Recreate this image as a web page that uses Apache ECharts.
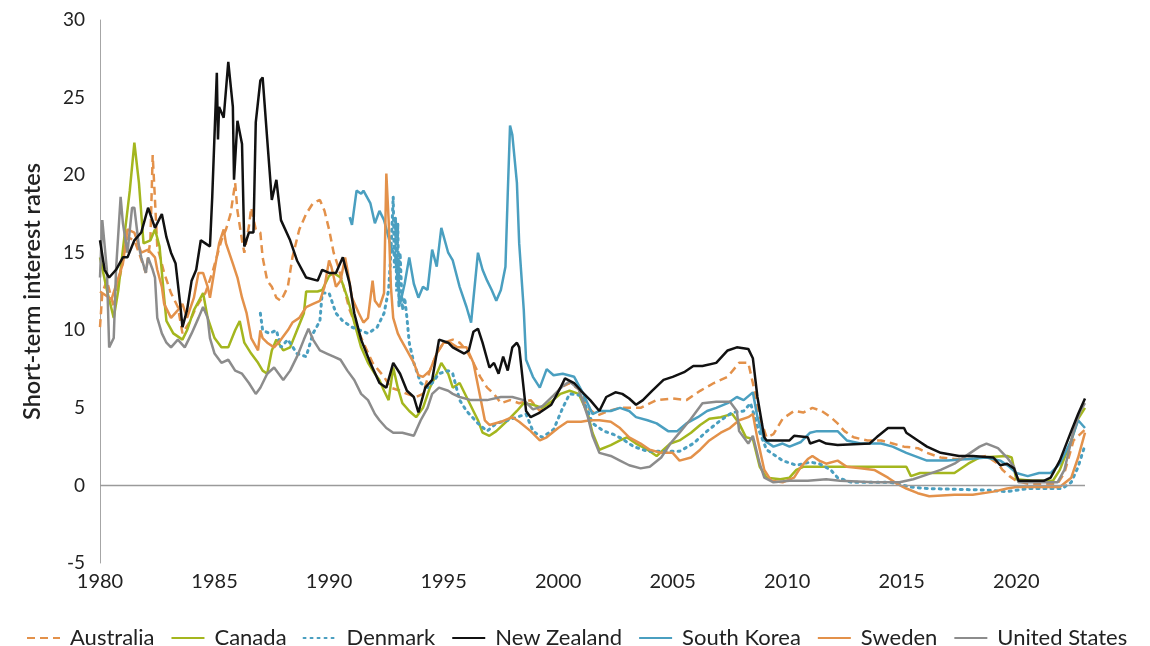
<!DOCTYPE html>
<html>
<head>
<meta charset="utf-8">
<script src="https://cdn.jsdelivr.net/npm/echarts@6/dist/echarts.min.js"></script>
<style>
  html, body { margin: 0; padding: 0; background: #fff; }
  #chart { width: 1150px; height: 646px; }
</style>
</head>
<body>
<div id="chart"></div>
<script>
// [year, short-term rate %]
const australia = [[1980.0,10.2],[1980.1,12.4],[1980.3,13.2],[1980.6,11.5],[1980.9,13.7],[1981.2,16.0],[1981.5,15.8],[1981.7,15.0],[1982.0,13.7],[1982.2,15.8],[1982.3,21.3],[1982.4,18.4],[1982.5,15.4],[1982.8,13.7],[1983.1,12.4],[1983.4,11.5],[1983.6,9.8],[1983.9,10.5],[1984.2,11.5],[1984.6,12.4],[1984.9,13.7],[1985.3,15.8],[1985.5,16.5],[1985.7,17.5],[1985.9,19.5],[1986.0,17.7],[1986.2,15.8],[1986.3,15.0],[1986.5,16.7],[1986.6,17.9],[1986.8,16.5],[1987.0,16.3],[1987.1,14.7],[1987.3,13.2],[1987.5,12.8],[1987.7,12.1],[1987.9,11.9],[1988.2,12.8],[1988.4,14.7],[1988.7,16.5],[1989.0,17.5],[1989.3,18.2],[1989.6,18.4],[1989.8,17.7],[1990.0,16.5],[1990.2,15.0],[1990.4,14.1],[1990.6,13.0],[1990.9,11.3],[1991.2,10.2],[1991.5,9.2],[1991.9,7.9],[1992.4,7.0],[1992.7,6.3],[1993.1,6.1],[1993.4,5.9],[1993.8,5.7],[1994.1,5.9],[1994.4,7.4],[1994.7,8.5],[1995.0,9.2],[1995.4,9.4],[1995.7,9.2],[1996.0,8.7],[1996.3,7.9],[1996.6,7.0],[1996.9,6.3],[1997.2,5.9],[1997.5,5.3],[1997.9,5.5],[1998.3,5.3],[1998.8,5.5],[1999.2,4.8],[1999.7,5.3],[2000.1,6.3],[2000.5,6.6],[2000.9,6.2],[2001.3,5.0],[2001.7,4.5],[2002.2,4.8],[2002.7,5.0],[2003.3,5.0],[2003.6,5.0],[2004.3,5.5],[2005.0,5.6],[2005.6,5.5],[2006.2,6.1],[2006.8,6.6],[2007.4,7.0],[2007.9,7.9],[2008.3,7.9],[2008.5,6.6],[2008.8,4.4],[2009.1,3.1],[2009.4,3.3],[2009.8,4.3],[2010.3,4.8],[2010.7,4.7],[2011.1,5.0],[2011.5,4.8],[2011.9,4.4],[2012.2,4.0],[2012.5,3.5],[2012.9,3.1],[2013.5,2.9],[2014.1,2.9],[2014.6,2.7],[2015.1,2.5],[2015.7,2.4],[2016.1,2.1],[2016.7,1.8],[2017.3,1.7],[2018.0,1.7],[2018.7,1.9],[2019.2,1.4],[2019.4,1.0],[2019.7,0.6],[2020.0,0.3],[2020.5,0.1],[2021.0,0.1],[2021.8,0.1],[2022.1,0.8],[2022.5,2.9],[2023.0,3.6]];

const canada = [[1980.0,14.7],[1980.3,12.6],[1980.6,10.8],[1980.8,12.6],[1981.1,16.5],[1981.3,19.0],[1981.5,22.1],[1981.7,19.5],[1981.9,15.6],[1982.2,15.8],[1982.4,16.5],[1982.6,15.4],[1982.8,12.1],[1982.9,10.6],[1983.2,9.8],[1983.6,9.4],[1983.8,10.0],[1984.1,11.3],[1984.5,12.4],[1984.7,10.8],[1985.0,9.5],[1985.3,8.9],[1985.6,8.9],[1985.9,10.0],[1986.1,10.6],[1986.3,9.2],[1986.6,8.5],[1986.9,7.9],[1987.1,7.4],[1987.3,7.2],[1987.5,8.7],[1987.7,9.4],[1988.0,8.7],[1988.3,8.9],[1988.6,10.0],[1988.9,11.1],[1989.0,12.5],[1989.5,12.5],[1989.7,12.6],[1990.0,13.5],[1990.2,13.7],[1990.5,13.4],[1990.8,12.1],[1991.1,10.5],[1991.4,8.9],[1991.7,7.9],[1992.0,7.2],[1992.2,6.8],[1992.4,6.1],[1992.6,5.5],[1992.8,7.6],[1993.0,6.3],[1993.2,5.3],[1993.5,4.8],[1993.8,4.4],[1994.1,5.0],[1994.4,6.3],[1994.7,7.2],[1994.9,7.9],[1995.2,7.2],[1995.4,6.3],[1995.7,6.6],[1996.0,5.7],[1996.3,4.8],[1996.5,4.2],[1996.7,3.4],[1997.0,3.2],[1997.3,3.5],[1997.8,4.2],[1998.2,4.8],[1998.5,5.3],[1998.9,5.2],[1999.3,5.0],[1999.7,5.4],[2000.1,5.9],[2000.5,6.1],[2000.9,5.9],[2001.3,4.6],[2001.5,3.4],[2001.8,2.3],[2002.3,2.6],[2002.7,2.9],[2003.0,3.1],[2003.4,2.7],[2003.9,2.3],[2004.3,1.9],[2004.6,2.3],[2004.9,2.7],[2005.3,2.9],[2005.8,3.4],[2006.2,3.9],[2006.6,4.3],[2007.1,4.4],[2007.6,4.6],[2007.9,4.0],[2008.2,3.1],[2008.5,3.0],[2008.8,1.2],[2009.1,0.5],[2009.7,0.4],[2010.1,0.5],[2010.4,1.0],[2010.7,1.2],[2015.2,1.2],[2015.4,0.6],[2015.8,0.8],[2017.3,0.8],[2017.9,1.4],[2018.4,1.8],[2019.6,1.9],[2019.8,1.8],[2020.0,0.4],[2020.7,0.3],[2021.6,0.3],[2021.9,1.0],[2022.4,2.9],[2022.7,4.3],[2023.0,5.0]];

const denmark = [[1987.0,11.1],[1987.1,10.0],[1987.4,9.8],[1987.7,10.0],[1987.9,8.9],[1988.2,9.4],[1988.6,8.5],[1989.0,8.3],[1989.3,9.8],[1989.6,10.6],[1989.7,12.4],[1990.0,12.4],[1990.3,11.1],[1990.6,10.6],[1991.0,10.2],[1991.7,9.8],[1992.1,10.2],[1992.4,11.1],[1992.6,12.6],[1992.7,15.0],[1992.8,18.6],[1992.85,14.0],[1992.9,17.3],[1992.95,12.5],[1993.0,16.9],[1993.05,11.5],[1993.1,15.0],[1993.2,11.3],[1993.3,12.1],[1993.4,10.8],[1993.5,9.2],[1993.7,7.9],[1994.0,6.6],[1994.3,6.3],[1994.5,6.6],[1994.8,7.2],[1995.2,7.4],[1995.4,7.2],[1995.7,5.5],[1996.0,4.8],[1996.5,4.0],[1996.9,3.5],[1997.3,4.0],[1997.8,4.2],[1998.2,4.4],[1998.6,4.6],[1998.9,3.5],[1999.3,3.1],[1999.8,3.6],[2000.2,5.0],[2000.5,5.9],[2001.0,5.8],[2001.3,4.8],[2001.5,4.0],[2002.0,3.5],[2002.4,3.3],[2002.8,3.0],[2003.3,2.5],[2003.9,2.2],[2004.8,2.2],[2005.3,2.2],[2005.9,2.7],[2006.5,3.5],[2007.1,4.2],[2007.6,4.7],[2008.1,4.8],[2008.4,5.3],[2008.7,3.8],[2009.1,2.3],[2009.8,1.6],[2010.4,1.3],[2011.0,1.5],[2011.4,1.4],[2011.9,1.0],[2012.2,0.5],[2012.8,0.2],[2013.8,0.2],[2014.5,0.2],[2015.1,0.0],[2015.4,-0.1],[2016.1,-0.2],[2018.7,-0.3],[2019.6,-0.4],[2020.5,-0.2],[2021.5,-0.2],[2022.0,-0.2],[2022.4,0.2],[2022.7,1.2],[2023.0,2.6]];

const newZealand = [[1980.0,15.8],[1980.2,13.9],[1980.4,13.4],[1980.7,13.9],[1981.0,14.7],[1981.2,14.7],[1981.5,15.8],[1981.8,16.3],[1982.1,17.9],[1982.4,16.6],[1982.7,17.5],[1982.9,16.0],[1983.1,15.0],[1983.3,14.3],[1983.5,11.7],[1983.6,10.2],[1983.8,11.3],[1984.0,13.2],[1984.2,13.9],[1984.4,15.8],[1984.6,15.6],[1984.8,15.4],[1984.9,18.6],[1985.1,26.6],[1985.15,22.3],[1985.2,24.4],[1985.4,23.7],[1985.6,27.3],[1985.8,24.4],[1985.85,19.7],[1986.0,23.5],[1986.2,22.0],[1986.3,15.4],[1986.5,16.3],[1986.7,16.3],[1986.8,23.4],[1987.0,26.1],[1987.1,26.3],[1987.3,22.3],[1987.5,18.4],[1987.7,19.7],[1987.9,17.1],[1988.3,15.8],[1988.6,14.5],[1989.0,13.4],[1989.5,13.2],[1989.7,13.9],[1990.0,13.7],[1990.3,13.7],[1990.6,14.7],[1990.9,13.0],[1991.1,11.1],[1991.4,9.4],[1991.8,7.9],[1992.2,6.6],[1992.5,6.3],[1992.8,7.9],[1993.1,7.2],[1993.4,6.1],[1993.7,5.7],[1993.9,4.7],[1994.2,6.3],[1994.5,6.8],[1994.8,9.4],[1995.2,9.2],[1995.4,8.9],[1995.9,8.5],[1996.1,8.7],[1996.3,9.9],[1996.5,10.1],[1996.7,9.2],[1997.0,7.6],[1997.2,7.9],[1997.4,7.2],[1997.6,8.3],[1997.8,7.4],[1998.0,8.9],[1998.2,9.2],[1998.3,8.9],[1998.6,4.8],[1998.8,4.4],[1999.2,4.7],[1999.7,5.2],[2000.1,6.3],[2000.3,6.9],[2000.7,6.6],[2001.0,6.1],[2001.4,5.5],[2001.8,4.8],[2002.1,5.7],[2002.5,6.0],[2002.8,5.9],[2003.1,5.6],[2003.4,5.2],[2003.7,5.5],[2004.1,6.1],[2004.6,6.8],[2005.0,7.0],[2005.5,7.3],[2005.9,7.7],[2006.3,7.7],[2006.9,7.9],[2007.4,8.7],[2007.8,8.9],[2008.3,8.8],[2008.5,8.2],[2008.7,5.7],[2009.0,3.1],[2009.1,2.9],[2010.1,2.9],[2010.3,3.2],[2010.9,3.1],[2011.0,2.7],[2011.4,2.9],[2011.7,2.7],[2012.2,2.6],[2013.6,2.7],[2013.9,3.1],[2014.4,3.7],[2015.1,3.7],[2015.2,3.4],[2015.7,2.9],[2016.1,2.5],[2016.7,2.1],[2017.5,1.9],[2018.1,1.9],[2019.0,1.8],[2019.3,1.3],[2019.6,1.4],[2019.9,1.1],[2020.1,0.3],[2021.2,0.3],[2021.5,0.5],[2021.9,1.6],[2022.4,3.5],[2022.7,4.6],[2023.0,5.6]];

const southKorea = [[1990.9,17.3],[1991.0,16.8],[1991.2,19.0],[1991.4,18.8],[1991.5,19.0],[1991.8,18.2],[1992.0,16.9],[1992.2,17.7],[1992.4,17.1],[1992.7,15.4],[1992.9,14.7],[1993.1,11.7],[1993.3,13.0],[1993.5,14.7],[1993.7,13.0],[1993.9,12.1],[1994.1,12.8],[1994.3,12.6],[1994.5,15.2],[1994.7,14.1],[1994.9,16.6],[1995.2,15.0],[1995.4,14.5],[1995.7,12.8],[1996.0,11.5],[1996.2,10.5],[1996.5,15.0],[1996.7,13.9],[1996.9,13.2],[1997.1,12.6],[1997.3,11.9],[1997.5,12.6],[1997.7,14.1],[1997.8,18.8],[1997.9,23.2],[1998.0,22.6],[1998.2,19.5],[1998.3,15.6],[1998.5,11.3],[1998.6,8.1],[1998.9,7.0],[1999.2,6.3],[1999.5,7.5],[1999.8,7.1],[2000.2,7.2],[2000.7,7.0],[2001.1,5.9],[2001.5,4.6],[2001.8,4.8],[2002.3,4.8],[2002.7,5.0],[2003.1,4.8],[2003.4,4.4],[2003.9,4.2],[2004.3,4.0],[2004.8,3.5],[2005.2,3.5],[2005.6,4.0],[2006.1,4.4],[2006.5,4.8],[2006.9,5.0],[2007.4,5.3],[2007.8,5.7],[2008.1,5.5],[2008.5,6.0],[2008.7,4.4],[2009.0,2.9],[2009.4,2.5],[2009.8,2.7],[2010.1,2.5],[2010.6,2.8],[2011.0,3.4],[2011.3,3.5],[2012.2,3.5],[2012.6,2.9],[2013.2,2.7],[2014.1,2.7],[2014.6,2.5],[2015.2,2.1],[2016.1,1.6],[2017.0,1.6],[2017.9,1.7],[2018.7,1.8],[2019.3,1.6],[2019.7,1.2],[2020.0,0.8],[2020.5,0.6],[2021.0,0.8],[2021.5,0.8],[2021.9,1.4],[2022.4,2.9],[2022.7,4.2],[2023.0,3.7]];

const sweden = [[1980.0,12.5],[1980.5,12.0],[1981.0,14.3],[1981.2,16.5],[1981.5,16.3],[1981.8,15.0],[1982.1,15.2],[1982.4,14.7],[1982.5,13.9],[1982.7,12.8],[1982.8,11.7],[1983.1,10.8],[1983.4,11.3],[1983.6,11.7],[1983.8,10.8],[1984.1,12.1],[1984.3,13.7],[1984.5,13.7],[1984.7,12.8],[1984.8,12.1],[1985.0,13.9],[1985.2,15.6],[1985.4,16.5],[1985.5,15.6],[1985.8,14.3],[1986.0,13.4],[1986.2,12.1],[1986.4,11.1],[1986.6,9.5],[1986.9,8.7],[1987.0,10.0],[1987.1,9.5],[1987.3,9.2],[1987.6,8.9],[1987.9,9.4],[1988.2,10.0],[1988.4,10.5],[1988.7,10.8],[1989.0,11.5],[1989.3,11.7],[1989.6,11.9],[1989.8,12.8],[1990.0,14.5],[1990.1,14.1],[1990.3,12.8],[1990.5,13.2],[1990.7,14.7],[1990.8,13.9],[1991.0,12.1],[1991.3,11.1],[1991.5,10.5],[1991.7,10.8],[1991.9,13.2],[1992.0,11.9],[1992.2,11.5],[1992.4,12.4],[1992.5,20.1],[1992.6,17.1],[1992.7,12.8],[1992.8,10.8],[1993.0,9.8],[1993.1,9.5],[1993.4,8.7],[1993.7,7.9],[1993.9,7.1],[1994.1,7.0],[1994.4,7.4],[1994.7,8.5],[1995.0,9.2],[1995.3,9.2],[1995.6,8.9],[1996.0,8.9],[1996.3,7.9],[1996.6,5.7],[1996.8,4.2],[1997.0,3.9],[1997.5,4.1],[1998.0,4.4],[1998.3,4.1],[1998.8,3.5],[1999.2,2.9],[1999.5,3.1],[2000.0,3.7],[2000.4,4.1],[2001.0,4.1],[2001.4,4.2],[2001.8,4.2],[2002.3,4.1],[2002.7,3.7],[2003.1,3.1],[2003.6,2.7],[2004.0,2.3],[2004.5,2.1],[2005.0,2.1],[2005.3,1.6],[2005.8,1.8],[2006.2,2.3],[2006.6,2.9],[2007.1,3.4],[2007.5,3.7],[2007.9,4.2],[2008.3,4.4],[2008.5,4.6],[2008.7,3.0],[2009.0,1.0],[2009.3,0.3],[2009.8,0.2],[2010.3,0.5],[2010.6,1.2],[2010.9,1.7],[2011.1,1.9],[2011.4,1.6],[2011.7,1.4],[2012.2,1.6],[2012.6,1.2],[2013.2,1.1],[2013.8,1.0],[2014.4,0.5],[2014.8,0.1],[2015.2,-0.2],[2015.7,-0.5],[2016.2,-0.7],[2017.3,-0.6],[2018.1,-0.6],[2019.0,-0.4],[2019.6,-0.2],[2020.0,-0.1],[2021.0,-0.1],[2021.9,-0.1],[2022.4,0.5],[2022.7,1.8],[2023.0,3.4]];

const unitedStates = [[1980.0,13.4],[1980.1,17.1],[1980.3,13.9],[1980.4,8.9],[1980.6,9.5],[1980.7,13.9],[1980.9,18.6],[1981.0,16.9],[1981.2,15.0],[1981.4,17.9],[1981.5,17.9],[1981.7,15.4],[1981.8,14.7],[1982.0,13.7],[1982.1,14.7],[1982.3,13.9],[1982.4,13.4],[1982.5,10.8],[1982.7,9.8],[1982.9,9.2],[1983.1,8.9],[1983.4,9.4],[1983.7,8.9],[1984.0,9.8],[1984.3,10.8],[1984.5,11.5],[1984.7,10.8],[1984.8,9.5],[1985.0,8.5],[1985.3,7.9],[1985.6,8.1],[1985.9,7.4],[1986.2,7.2],[1986.5,6.6],[1986.8,5.9],[1987.0,6.3],[1987.3,7.2],[1987.6,7.6],[1987.8,7.2],[1988.0,6.8],[1988.3,7.4],[1988.6,8.3],[1988.9,9.4],[1989.1,10.1],[1989.3,9.4],[1989.6,8.7],[1989.9,8.5],[1990.2,8.3],[1990.5,8.1],[1990.8,7.4],[1991.1,6.8],[1991.4,5.9],[1991.7,5.5],[1992.0,4.6],[1992.2,4.2],[1992.5,3.7],[1992.8,3.4],[1993.2,3.4],[1993.7,3.2],[1994.0,4.2],[1994.3,5.0],[1994.5,5.9],[1994.8,6.3],[1995.2,6.1],[1995.4,5.9],[1995.7,5.7],[1996.2,5.5],[1996.9,5.5],[1997.5,5.7],[1998.0,5.7],[1998.5,5.5],[1998.9,4.9],[1999.3,5.1],[1999.8,5.8],[2000.2,6.4],[2000.5,6.7],[2000.9,6.2],[2001.3,4.4],[2001.5,3.2],[2001.8,2.1],[2002.3,1.9],[2002.7,1.6],[2003.1,1.3],[2003.6,1.1],[2004.0,1.2],[2004.5,1.8],[2004.9,2.7],[2005.3,3.4],[2005.8,4.3],[2006.3,5.3],[2006.9,5.4],[2007.5,5.4],[2007.8,4.8],[2007.9,3.5],[2008.3,2.7],[2008.5,3.2],[2008.8,1.4],[2009.0,0.5],[2009.4,0.2],[2010.1,0.3],[2010.9,0.3],[2011.7,0.4],[2012.3,0.3],[2013.8,0.2],[2014.9,0.2],[2015.5,0.4],[2016.1,0.7],[2016.7,1.0],[2017.3,1.4],[2017.9,2.0],[2018.4,2.5],[2018.7,2.7],[2019.2,2.4],[2019.6,1.8],[2019.9,1.2],[2020.1,0.2],[2021.8,0.2],[2022.1,1.0],[2022.5,3.5],[2022.8,4.8],[2023.0,5.3]];

const seriesDefs = [
    { name: "Australia", data: australia, color: "#E3914A", type: "dashed" },
    { name: "Canada", data: canada, color: "#A4B61E", type: "solid" },
    { name: "Denmark", data: denmark, color: "#4A9FC0", type: "dotted" },
    { name: "New Zealand", data: newZealand, color: "#111111", type: "solid" },
    { name: "South Korea", data: southKorea, color: "#4A9FC0", type: "solid" },
    { name: "Sweden", data: sweden, color: "#E3914A", type: "solid" },
    { name: "United States", data: unitedStates, color: "#8C8C8C", type: "solid" },
];

const textColor = "#222";
const font = "Lato, 'Noto Sans', sans-serif";

const chart = echarts.init(document.getElementById("chart"), null, { renderer: "canvas" });
chart.setOption({
    animation: false,
    grid: { left: 100, right: 65, top: 20, bottom: 83 },
    legend: {
        left: 21,
        top: 622,
        itemWidth: 33,
        itemHeight: 12,
        itemGap: 16,
        itemStyle: { opacity: 0 },
        textStyle: { color: textColor, fontSize: 22, fontFamily: font, padding: [0, 0, 0, 5] },
        data: seriesDefs.map(s => s.name),
    },
    xAxis: {
        type: "value",
        min: 1980,
        max: 2023,
        interval: 5,
        axisLine: { show: false, onZero: false },
        axisTick: { show: false },
        splitLine: { show: false },
        axisLabel: {
            color: textColor, fontSize: 20, fontFamily: font, margin: 9,
            showMaxLabel: false,
            formatter: v => (v % 5 === 0 ? String(v) : ""),
        },
    },
    yAxis: {
        type: "value",
        min: -5,
        max: 30,
        interval: 5,
        name: "Short-term interest rates",
        nameLocation: "middle",
        nameGap: 56,
        nameTextStyle: { color: textColor, fontSize: 23.5, fontFamily: font, fontWeight: 600 },
        axisLine: { show: true, lineStyle: { color: "#a6a6a6", width: 1 } },
        axisTick: { show: false },
        splitLine: { show: false },
        axisLabel: { color: textColor, fontSize: 19, fontFamily: font, margin: 15 },
    },
    series: seriesDefs.map((s, i) => ({
        name: s.name,
        type: "line",
        data: s.data,
        symbol: "none",
        z: s.name === "New Zealand" ? 5 : 2,
        color: s.color,
        lineStyle: {
            color: s.color,
            width: s.type === "dotted" ? 3 : 2.5,
            type: s.type === "dashed" ? [8, 5] : (s.type === "dotted" ? [2, 5] : "solid"),
            cap: s.type === "dotted" ? "round" : "butt",
        },
        markLine: i === 0 ? {
            silent: true,
            symbol: "none",
            label: { show: false },
            lineStyle: { color: "#9a9a9a", width: 1.3, type: "solid" },
            data: [{ yAxis: 0 }],
        } : undefined,
    })),
});
</script>
</body>
</html>
